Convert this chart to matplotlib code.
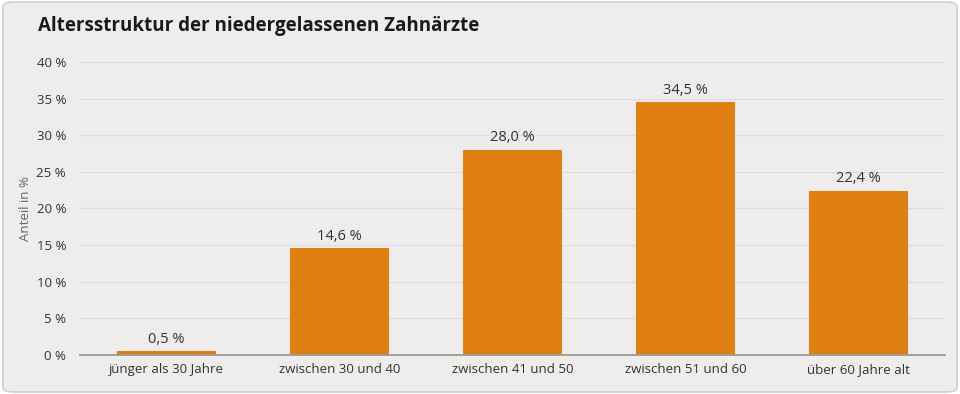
import matplotlib.pyplot as plt
from matplotlib.patches import FancyBboxPatch

# Datos
categorias = ['jünger als 30 Jahre', 'zwischen 30 und 40', 'zwischen 41 und 50',
              'zwischen 51 und 60', 'über 60 Jahre alt']
anteil = [0.5, 14.6, 28.0, 34.5, 22.4]
ticks_y = [0, 5, 10, 15, 20, 25, 30, 35, 40]

bg = '#eeedec'
naranja = '#e07f12'

plt.rcParams['font.family'] = ['Open Sans', 'DejaVu Sans']

fig = plt.figure(figsize=(9.6, 3.94), dpi=100, facecolor='white')
# Marco redondeado (detras de los ejes)
marco = FancyBboxPatch((0.003, 0.005), 0.994, 0.99, boxstyle='round,pad=0,rounding_size=0.012',
                       transform=fig.transFigure, facecolor=bg, edgecolor='#d0d0d0',
                       linewidth=1.2, zorder=-10)
fig.patches.append(marco)

ax = fig.add_axes([0.0833, 0.099, 0.901, 0.744])
ax.set_facecolor(bg)
ax.set_zorder(1)

x = range(len(categorias))
ax.bar(x, anteil, width=0.57, color=naranja, zorder=3)

# Etiquetas de valor
for xi, v in zip(x, anteil):
    ax.text(xi, v + 0.6, f'{v:.1f} %'.replace('.', ','), ha='center', va='bottom',
            fontsize=10.5, color='#333333', zorder=4)

ax.set_xlim(-0.5, len(categorias) - 0.5)
ax.set_ylim(0, 40)
ax.set_yticks(ticks_y)
ax.set_yticklabels([f'{t} %' for t in ticks_y])
ax.set_xticks(list(x))
ax.set_xticklabels(categorias)
ax.tick_params(axis='both', length=0, labelsize=9.5, colors='#333333')
ax.tick_params(axis='y', pad=10)
ax.tick_params(axis='x', pad=6)

ax.grid(axis='y', color='#dcdde4', linewidth=0.9, zorder=0)
ax.set_axisbelow(True)
for s in ['top', 'right', 'left']:
    ax.spines[s].set_visible(False)
ax.spines['bottom'].set_color('#9a9a9a')
ax.spines['bottom'].set_linewidth(1.3)
ax.spines['bottom'].set_zorder(5)

ax.set_ylabel('Anteil in %', fontsize=9.5, color='#666666', labelpad=3)

fig.text(0.040, 0.935, 'Altersstruktur der niedergelassenen Zahnärzte', fontsize=13.5,
         fontweight='bold', color='#1a1a1a', ha='left', va='center')

fig.savefig('out.png', dpi=100, facecolor='white')
